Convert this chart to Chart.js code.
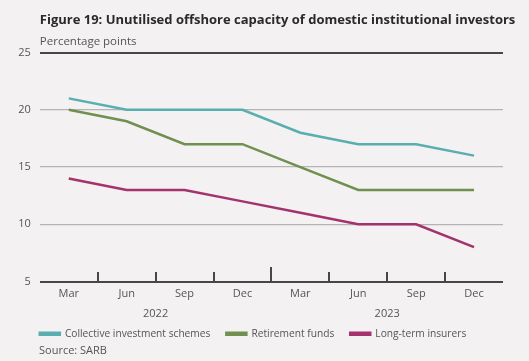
<!DOCTYPE html>
<html><head><meta charset="utf-8">
<script src="https://cdn.jsdelivr.net/npm/chart.js@4.4.0/dist/chart.umd.min.js"></script>
<style>
html,body{margin:0;padding:0;background:#f3f1f1;overflow:hidden;}
#wrap{position:relative;width:529px;height:361px;}
#source{position:absolute;left:39px;top:342px;font:11px "Open Sans",sans-serif;color:#555;}
</style></head>
<body><div id="wrap"><canvas id="c" width="529" height="361"></canvas><div id="source">Source: SARB</div></div>
<script>
const months = ['Mar','Jun','Sep','Dec','Mar','Jun','Sep','Dec'];
const years = ['2022','2023'];
const collective = [21,20,20,20,18,17,17,16];
const retirement = [20,19,17,17,15,13,13,13];
const longterm = [14,13,13,12,11,10,10,8];
const yTicks = [5,10,15,20,25];

const LEG_PAD = 16;

const tickMarks = {
  id:'tickMarks',
  afterLayout(chart){
    const L = chart.legend;
    if (L) { L.left -= LEG_PAD; L.top -= 8.5; L.bottom -= 8.5; }
    const T = chart.titleBlock;
    if (T) { T.right = chart.width; T.width = T.right - T.left; }
  },
  afterDraw(chart){
    const x = chart.scales.x, y = chart.scales.y, ctx = chart.ctx;
    const base = y.getPixelForValue(5);
    ctx.save();
    ctx.strokeStyle = '#4a4648'; ctx.lineWidth = 2;
    for(let i=1;i<months.length;i++){
      const px = Math.round((x.getPixelForValue(i-1)+x.getPixelForValue(i))/2);
      const len = (i===4)?14.5:9.5;
      ctx.beginPath(); ctx.moveTo(px, base); ctx.lineTo(px, base-len); ctx.stroke();
    }
    ctx.restore();
  }
};

new Chart(document.getElementById('c'), {
  type:'line',
  data:{
    labels: months,
    datasets:[
      {label:'Collective investment schemes', data:collective, borderColor:'#5aaeb0', backgroundColor:'#5aaeb0'},
      {label:'Retirement funds', data:retirement, borderColor:'#70904f', backgroundColor:'#70904f'},
      {label:'Long-term insurers', data:longterm, borderColor:'#a4326e', backgroundColor:'#a4326e'}
    ]
  },
  options:{
    responsive:false, animation:false,
    layout:{padding:{left:0,right:26,top:0,bottom:3.7}},
    elements:{line:{borderWidth:2.5,tension:0},point:{radius:0}},
    plugins:{
      title:{display:true, text:'Figure 19: Unutilised offshore capacity of domestic institutional investors', align:'start', fullSize:false,
        color:'#2a2a2a', font:{family:'Open Sans', size:13, weight:'bold'}, padding:{top:12,bottom:3.5}},
      subtitle:{display:true, text:'Percentage points', align:'start', fullSize:false,
        color:'#555', font:{family:'Open Sans', size:11.5}, padding:{top:3.7,bottom:4}},
      legend:{position:'bottom', align:'start', fullSize:false,
        labels:{boxWidth:20, boxHeight:2, color:'#555', font:{family:'Open Sans', size:10.2}, padding:LEG_PAD}},
      tooltip:{enabled:false}
    },
    scales:{
      x:{type:'category', offset:true, grid:{display:false, drawTicks:false}, border:{display:false},
        ticks:{color:'#555', font:{family:'Open Sans', size:11, lineHeight:1}, padding:6.7, maxRotation:0}},
      x2:{type:'category', labels:years, position:'bottom', offset:true, grid:{display:false, drawTicks:false}, border:{display:false},
        ticks:{color:'#555', font:{family:'Open Sans', size:11}, padding:1, maxRotation:0}},
      y:{min:5, max:25, afterBuildTicks(s){ s.ticks = yTicks.map(v=>({value:v})); },
        afterFit(s){ s.width = 39.8; },
        border:{display:false},
        grid:{drawTicks:false,
          color:c=>(c.tick && (c.tick.value===5||c.tick.value===25))?'#4a4648':'#b5b3b5',
          lineWidth:c=>(c.tick && (c.tick.value===5||c.tick.value===25))?2:1.3},
        ticks:{color:'#555', font:{family:'Open Sans', size:11}, padding:9}}
    }
  },
  plugins:[tickMarks]
});
</script></body></html>
